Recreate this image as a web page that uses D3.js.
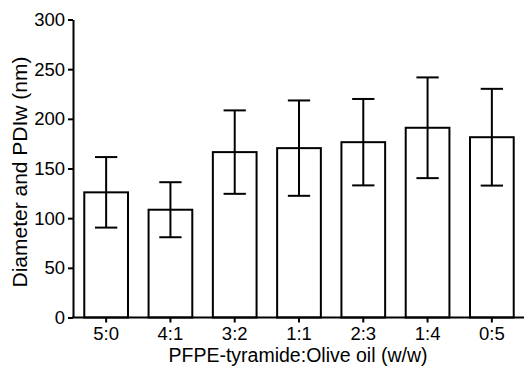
<!DOCTYPE html>
<html>
<head>
<meta charset="utf-8">
<script src="https://cdn.jsdelivr.net/npm/d3@7"></script>
<style>
  html, body { margin: 0; padding: 0; background: #fff; }
  svg { display: block; }
  text { font-family: "Liberation Sans", Arial, sans-serif; fill: #000; }
</style>
</head>
<body>
<svg id="chart" width="524" height="367"></svg>
<script>
const categories = ["5:0", "4:1", "3:2", "1:1", "2:3", "1:4", "0:5"];
const means = [126, 108.5, 166.5, 170.5, 176.5, 191, 181.5];
const errors = [35.5, 27.7, 42, 48, 43.5, 50.7, 48.7];
const yTicks = [0, 50, 100, 150, 200, 250, 300];
const yTitle = "Diameter and PDIw (nm)";
const xTitle = "PFPE-tyramide:Olive oil (w/w)";

(function () {
const svg = d3.select("#chart");
const mLeft = 73, mRight = 524, mTop = 19.5, mBottom = 317.5;

const x = d3.scaleBand().domain(categories).range([mLeft + 1, mRight]).padding(0);
const y = d3.scaleLinear().domain([0, 300]).range([mBottom, mTop]);
const barW = x.bandwidth() * 0.68;
const capW = barW * 0.51;

const data = categories.map((c, i) => ({ c, m: means[i], e: errors[i] }));

// bars
svg.append("g").selectAll("rect").data(data).join("rect")
  .attr("x", d => x(d.c) + x.bandwidth() / 2 - barW / 2)
  .attr("y", d => y(d.m))
  .attr("width", barW)
  .attr("height", d => y(0) - y(d.m))
  .attr("fill", "#fff").attr("stroke", "#000").attr("stroke-width", 2);

// error bars
const eg = svg.append("g").attr("stroke", "#000").attr("stroke-width", 2);
data.forEach(d => {
  const cx = x(d.c) + x.bandwidth() / 2;
  eg.append("line").attr("x1", cx).attr("x2", cx).attr("y1", y(d.m + d.e)).attr("y2", y(d.m - d.e));
  eg.append("line").attr("x1", cx - capW / 2).attr("x2", cx + capW / 2).attr("y1", y(d.m + d.e)).attr("y2", y(d.m + d.e));
  eg.append("line").attr("x1", cx - capW / 2).attr("x2", cx + capW / 2).attr("y1", y(d.m - d.e)).attr("y2", y(d.m - d.e));
});

// y axis
const yAxis = svg.append("g").attr("transform", `translate(${mLeft},0)`)
  .call(d3.axisLeft(y).tickValues(yTicks).tickSize(5).tickPadding(3).tickSizeOuter(0));
yAxis.select(".domain").attr("stroke-width", 2);
yAxis.selectAll(".tick line").attr("stroke-width", 2);
yAxis.selectAll("text").style("font-size", "18.5px").style("font-family", "'Liberation Sans', Arial, sans-serif");

// x axis
const xAxis = svg.append("g").attr("transform", `translate(0,${mBottom})`)
  .call(d3.axisBottom(x).tickSize(5).tickPadding(4).tickSizeOuter(0));
xAxis.select(".domain").attr("d", `M${mLeft - 1},0H${mRight}`).attr("stroke-width", 2);
xAxis.selectAll(".tick line").attr("stroke-width", 2);
xAxis.selectAll("text").style("font-size", "18.5px").style("font-family", "'Liberation Sans', Arial, sans-serif");

// titles
svg.append("text").attr("x", 298).attr("y", 362)
  .attr("text-anchor", "middle").style("font-size", "19.5px").text(xTitle);
svg.append("text").attr("transform", `translate(27,172) rotate(-90)`)
  .attr("text-anchor", "middle").style("font-size", "21px").text(yTitle);
})();
</script>
</body>
</html>
